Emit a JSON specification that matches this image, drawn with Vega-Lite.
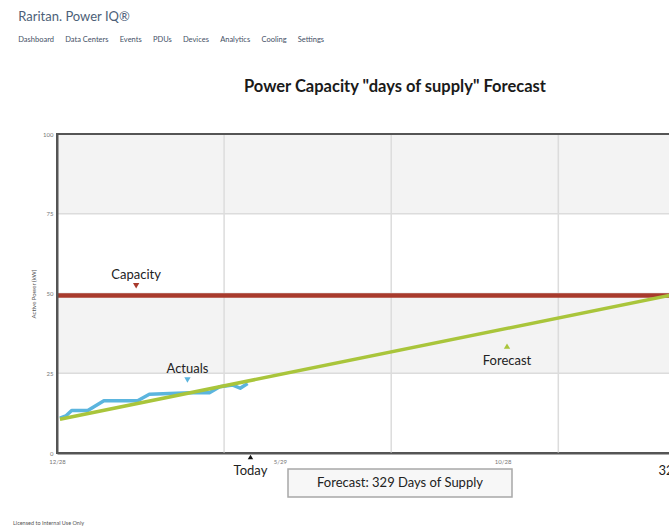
{
  "$schema": "https://vega.github.io/schema/vega-lite/v6.json",
  "padding": {"left": 12, "top": 11, "right": 0, "bottom": 2},
  "background": "#ffffff",
  "title": {
    "text": "Raritan.   Power IQ®",
    "subtitle": "Dashboard\u2003\u2003Data Centers\u2003\u2003Events\u2003\u2003PDUs\u2003\u2003Devices\u2003\u2003Analytics\u2003\u2003Cooling\u2003\u2003Settings",
    "anchor": "start",
    "font": "Lato",
    "fontSize": 13,
    "fontWeight": "normal",
    "color": "#4d5f78",
    "subtitleFont": "Lato",
    "subtitleFontSize": 7.5,
    "subtitleColor": "#445066",
    "subtitlePadding": 12,
    "offset": 34,
    "dx": 6
  },
  "config": {"font": "Lato"},
  "datasets": {
    "actuals": [
      {"date": "2010-12-30", "kW": 10.9},
      {"date": "2011-01-03", "kW": 11.6},
      {"date": "2011-01-07", "kW": 13.3},
      {"date": "2011-01-18", "kW": 13.3},
      {"date": "2011-01-29", "kW": 16.4},
      {"date": "2011-02-21", "kW": 16.4},
      {"date": "2011-03-01", "kW": 18.4},
      {"date": "2011-03-29", "kW": 18.9},
      {"date": "2011-04-11", "kW": 18.9},
      {"date": "2011-04-18", "kW": 20.8},
      {"date": "2011-04-27", "kW": 21.3},
      {"date": "2011-05-02", "kW": 20.3},
      {"date": "2011-05-07", "kW": 21.8}
    ],
    "forecast": [
      {"date": "2010-12-30", "kW": 10.6},
      {"date": "2012-02-19", "kW": 49.4}
    ],
    "capacity": [{"kW": 49.4}],
    "bands": [{"lo": 25, "hi": 50}, {"lo": 75, "hi": 100}],
    "hgrid": [{"kW": 25}, {"kW": 50}, {"kW": 75}],
    "frame": [{"kW": 100}],
    "vgrid": [{"date": "2011-04-21"}, {"date": "2011-08-13"}, {"date": "2011-12-05"}],
    "notes": [
      {"series": "Capacity", "date": "2011-02-20", "kW": 52.4},
      {"series": "Actuals", "date": "2011-03-27", "kW": 22.9},
      {"series": "Forecast", "date": "2011-10-31", "kW": 33.5}
    ],
    "markers": [
      {"label": "Today", "date": "2011-05-09", "kW": 0},
      {"label": "329", "date": "2012-02-19", "kW": 0}
    ]
  },
  "vconcat": [
    {
      "width": 686,
      "height": 319,
      "view": {"stroke": "#555555", "strokeWidth": 2, "fill": "#ffffff"},
      "title": {
        "text": "Power Capacity \"days of supply\" Forecast",
        "font": "Lato",
        "fontSize": 16.5,
        "fontWeight": "bold",
        "color": "#1a1a1a",
        "frame": "group",
        "anchor": "middle",
        "offset": 36,
        "dx": -5
      },
      "layer": [
        {
          "data": {"name": "bands"},
          "mark": {"type": "rect", "fill": "#f3f3f3"},
          "encoding": {
            "y": {
              "field": "lo",
              "type": "quantitative",
              "scale": {"domain": [0, 100], "nice": false},
              "axis": {
                "values": [0, 25, 50, 75, 100],
                "title": "Active Power (kW)",
                "titleFont": "Lato",
                "titleFontSize": 6,
                "titleFontWeight": "normal",
                "titleColor": "#555555",
                "titlePadding": 6,
                "labelFont": "Lato",
                "labelFontSize": 6,
                "labelColor": "#777777",
                "labelPadding": 4,
                "ticks": false,
                "domain": true,
                "domainColor": "#555555",
                "domainWidth": 2,
                "zindex": 1,
                "grid": false
              }
            },
            "y2": {"field": "hi"}
          }
        },
        {
          "data": {"name": "hgrid"},
          "mark": {"type": "rule", "color": "#dcdcdc", "strokeWidth": 1.5},
          "encoding": {"y": {"field": "kW", "type": "quantitative"}}
        },
        {
          "data": {"name": "vgrid"},
          "mark": {"type": "rule", "color": "#dcdcdc", "strokeWidth": 1.5},
          "encoding": {
            "x": {
              "field": "date",
              "type": "temporal",
              "title": null,
              "scale": {
                "type": "utc",
                "nice": false,
                "domain": [
                  {"year": 2010, "month": 12, "date": 28, "utc": true},
                  {"year": 2012, "month": 4, "date": 9, "utc": true}
                ]
              },
              "axis": {
                "values": [
                  {"year": 2010, "month": 12, "date": 28, "utc": true},
                  {"year": 2011, "month": 5, "date": 29, "utc": true},
                  {"year": 2011, "month": 10, "date": 28, "utc": true}
                ],
                "format": "%-m/%-d",
                "title": null,
                "labelFont": "Lato",
                "labelFontSize": 6,
                "labelColor": "#777777",
                "labelPadding": 5,
                "labelFlush": false,
                "labelOverlap": false,
                "ticks": false,
                "domain": true,
                "domainColor": "#555555",
                "domainWidth": 2,
                "zindex": 1,
                "grid": false
              }
            }
          }
        },
        {
          "data": {"name": "frame"},
          "mark": {"type": "rule", "color": "#555555", "strokeWidth": 2},
          "encoding": {"y": {"field": "kW", "type": "quantitative"}}
        },
        {
          "data": {"name": "capacity"},
          "mark": {"type": "rule", "color": "#a83a2c", "strokeWidth": 4.5},
          "encoding": {"y": {"field": "kW", "type": "quantitative"}}
        },
        {
          "data": {"name": "actuals"},
          "mark": {"type": "line", "color": "#5bb5de", "strokeWidth": 3.5, "strokeJoin": "round"},
          "encoding": {
            "x": {"field": "date", "type": "temporal", "title": null},
            "y": {"field": "kW", "type": "quantitative"}
          }
        },
        {
          "data": {"name": "forecast"},
          "mark": {"type": "line", "color": "#a9c53b", "strokeWidth": 3.5},
          "encoding": {
            "x": {"field": "date", "type": "temporal", "title": null},
            "y": {"field": "kW", "type": "quantitative"}
          }
        },
        {
          "data": {"name": "notes"},
          "mark": {"type": "point", "filled": true, "opacity": 1, "size": 40},
          "encoding": {
            "x": {"field": "date", "type": "temporal", "title": null},
            "y": {"field": "kW", "type": "quantitative"},
            "color": {
              "field": "series",
              "type": "nominal",
              "scale": {"domain": ["Capacity", "Actuals", "Forecast"], "range": ["#a83a2c", "#5bb5de", "#a9c53b"]},
              "legend": null
            },
            "shape": {
              "field": "series",
              "type": "nominal",
              "scale": {"domain": ["Capacity", "Actuals", "Forecast"], "range": ["triangle-down", "triangle-down", "triangle-up"]},
              "legend": null
            }
          }
        },
        {
          "data": {"name": "notes"},
          "transform": [{"filter": "datum.series !== 'Forecast'"}],
          "mark": {"type": "text", "font": "Lato", "fontSize": 13, "color": "#222222", "dy": -11},
          "encoding": {
            "x": {"field": "date", "type": "temporal", "title": null},
            "y": {"field": "kW", "type": "quantitative"},
            "text": {"field": "series"}
          }
        },
        {
          "data": {"name": "notes"},
          "transform": [{"filter": "datum.series === 'Forecast'"}],
          "mark": {"type": "text", "font": "Lato", "fontSize": 13, "color": "#222222", "dy": 15},
          "encoding": {
            "x": {"field": "date", "type": "temporal", "title": null},
            "y": {"field": "kW", "type": "quantitative"},
            "text": {"field": "series"}
          }
        },
        {
          "data": {"name": "markers"},
          "transform": [{"filter": "datum.label === 'Today'"}],
          "mark": {"type": "point", "shape": "triangle-up", "filled": true, "color": "#111111", "opacity": 1, "size": 30, "yOffset": 4},
          "encoding": {
            "x": {"field": "date", "type": "temporal", "title": null},
            "y": {"field": "kW", "type": "quantitative"}
          }
        },
        {
          "data": {"name": "markers"},
          "mark": {"type": "text", "font": "Lato", "fontSize": 13, "color": "#222222", "dy": 18},
          "encoding": {
            "x": {"field": "date", "type": "temporal", "title": null},
            "y": {"field": "kW", "type": "quantitative"},
            "text": {"field": "label"}
          }
        }
      ]
    },
    {
      "width": 224,
      "height": 28,
      "view": {"fill": "#f7f7f7", "stroke": "#a8a8a8", "strokeWidth": 1.5},
      "data": {"values": [{"label": "Forecast: 329 Days of Supply"}]},
      "mark": {"type": "text", "font": "Lato", "fontSize": 13, "color": "#222222"},
      "encoding": {"text": {"field": "label"}},
      "title": {
        "text": "Licensed to Internal Use Only",
        "orient": "bottom",
        "anchor": "start",
        "frame": "group",
        "font": "Lato",
        "fontSize": 5.5,
        "fontWeight": "normal",
        "color": "#555555",
        "offset": 24,
        "dx": -275
      }
    }
  ],
  "bounds": "flush",
  "center": true,
  "spacing": 16
}
